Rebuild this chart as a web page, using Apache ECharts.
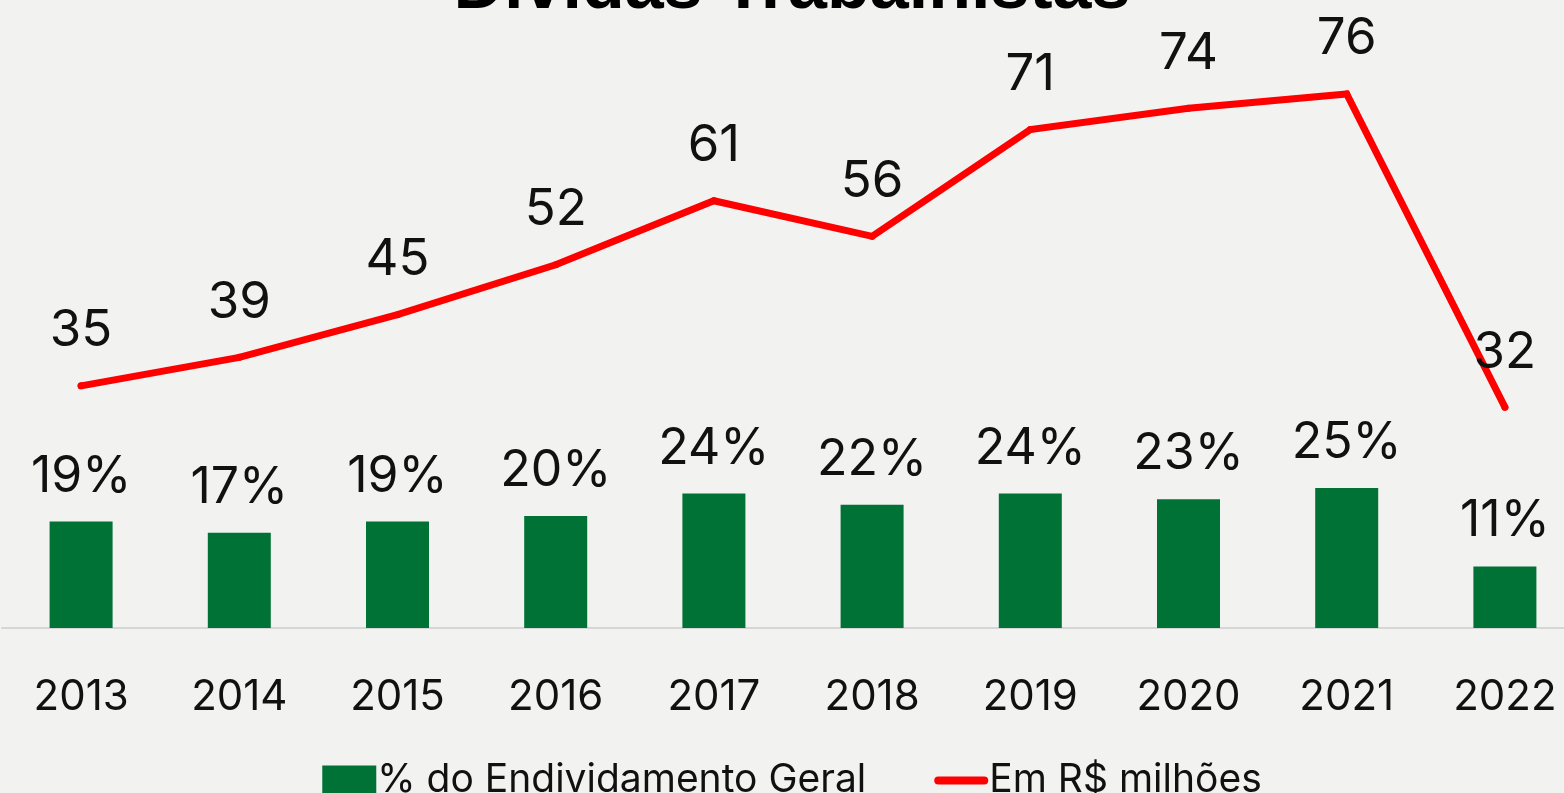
<!DOCTYPE html>
<html>
<head>
<meta charset="utf-8">
<title>Dívidas Trabalhistas</title>
<script src="https://cdn.jsdelivr.net/npm/echarts@6/dist/echarts.min.js"></script>
<style>
  html, body { margin: 0; padding: 0; background: #F2F2F1; overflow: hidden; }
  #chart { width: 1584px; height: 793px; }
</style>
</head>
<body>
<div id="chart"></div>
<script>
// Anos
const years = ['2013', '2014', '2015', '2016', '2017', '2018', '2019', '2020', '2021', '2022'];
// Participação no endividamento geral (%)
const sharePct = [19, 17, 19, 20, 24, 22, 24, 23, 25, 11];
// Valor das dívidas trabalhistas (R$ milhões)
const amountMillions = [35, 39, 45, 52, 61, 56, 71, 74, 76, 32];

const barName = '% do Endividamento Geral';
const lineName = 'Em R$ milhões';
const FONT = 'Inter, Roboto, "Noto Sans", sans-serif';
// thick rounded stroke used as the line's legend key
const LINE_KEY = 'path://M4,0 L50,0 A4,4 0 0 1 50,8 L4,8 A4,4 0 0 1 4,0 Z';

const chart = echarts.init(document.getElementById('chart'), null, { renderer: 'canvas' });

chart.setOption({
  backgroundColor: '#F2F2F1',
  animation: false,
  title: {
    text: 'Dívidas Trabalhistas',
    left: 'center',
    top: -51,
    textStyle: {
      fontFamily: '"Liberation Sans", Arial, sans-serif',
      fontWeight: 'bold',
      fontSize: 70,
      color: '#000'
    }
  },
  legend: {
    bottom: -12,
    left: 'center',
    itemWidth: 54,
    itemHeight: 30,
    itemGap: 68,
    symbolKeepAspect: true,
    textStyle: { fontFamily: FONT, fontSize: 39, color: '#111', padding: [0, 0, 0, -4] },
    data: [
      { name: barName, icon: 'rect' },
      { name: lineName, icon: LINE_KEY }
    ]
  },
  grid: { left: 2, right: 0, top: 40, height: 588 },
  xAxis: {
    type: 'category',
    data: years,
    axisTick: { show: false },
    axisLine: { show: true, lineStyle: { color: '#D6D6D6', width: 2 } },
    axisLabel: { fontFamily: FONT, fontSize: 42, color: '#111', margin: 48 }
  },
  yAxis: [
    { type: 'value', min: 0, max: 105, show: false, splitLine: { show: false } },
    { type: 'value', min: 0.98, max: 83.58, show: false, splitLine: { show: false } }
  ],
  series: [
    {
      name: barName,
      type: 'bar',
      yAxisIndex: 0,
      data: sharePct,
      barWidth: 63,
      itemStyle: { color: '#007236' },
      label: {
        show: true,
        position: 'top',
        distance: 20,
        formatter: p => p.value + '%',
        fontFamily: FONT,
        fontSize: 50,
        color: '#111'
      }
    },
    {
      name: lineName,
      type: 'line',
      yAxisIndex: 1,
      data: amountMillions,
      symbol: 'circle',
      symbolSize: 7,
      showSymbol: true,
      lineStyle: { color: '#FF0000', width: 7, cap: 'round', join: 'miter' },
      itemStyle: { color: '#FF0000' },
      label: {
        show: true,
        position: 'top',
        distance: 26,
        fontFamily: FONT,
        fontSize: 51,
        color: '#111'
      }
    }
  ]
});
</script>
</body>
</html>
